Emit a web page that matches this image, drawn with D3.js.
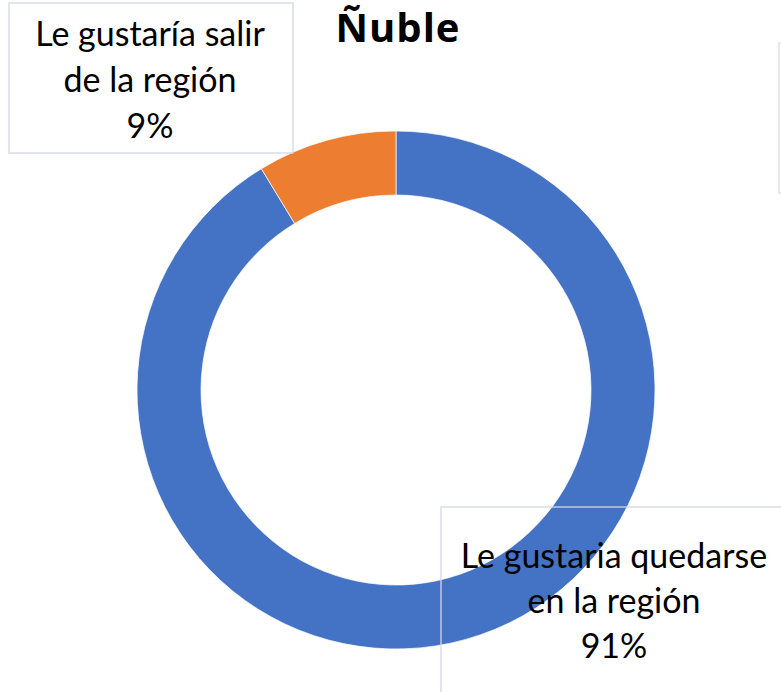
<!DOCTYPE html>
<html><head><meta charset="utf-8">
<script src="https://cdn.jsdelivr.net/npm/d3@7"></script>
<style>body{margin:0;background:#fff;} svg{display:block;}</style>
</head><body>
<script>
const categories = ["Le gustaria quedarse en la región", "Le gustaría salir de la región"];
const values = [91.3, 8.7];
const labelLines = [["Le gustaria quedarse", "en la región", "91%"], ["Le gustaría salir", "de la región", "9%"]];
const colors = ["#4472C4", "#ED7D31"];
const title = "Ñuble";

const W = 781, H = 692;
const svg = d3.select("body").append("svg").attr("width", W).attr("height", H);
const font = "Lato, 'Open Sans', sans-serif";

const cx = 396, cy = 390, R = 259, r = 195;
const pie = d3.pie().sort(null).value(d => d)(values);
const arc = d3.arc().innerRadius(r).outerRadius(R);
const color = d3.scaleOrdinal().domain(categories).range(colors);

svg.append("g").attr("transform", `translate(${cx},${cy})`)
  .selectAll("path").data(pie).join("path")
  .attr("d", arc).attr("fill", (d, i) => color(categories[i]))
  .attr("stroke", "#fff").attr("stroke-width", 0.7);

svg.append("text").attr("x", 398).attr("y", 42).attr("text-anchor", "middle")
  .attr("font-family", "'Open Sans', Lato, sans-serif").attr("font-weight", "bold").attr("font-size", 40)
  .attr("letter-spacing", 1)
  .attr("fill", "#000").text(title);

// partial box at right edge
svg.append("rect").attr("x", 779).attr("y", 43).attr("width", 40).attr("height", 150)
  .attr("fill", "#fff").attr("stroke", "#d9d9d9").attr("stroke-width", 1.2);

const boxes = [
  {x: 441, y: 507, w: 400, h: 250, tx: 614, base: [568, 613, 658]},
  {x: 9, y: 3, w: 284, h: 150, tx: 150, base: [46, 92, 138]}
];
boxes.forEach((b, i) => {
  svg.append("rect").attr("x", b.x).attr("y", b.y).attr("width", b.w).attr("height", b.h)
    .attr("fill", "none").attr("stroke", "#d3d8e3").attr("stroke-width", 1.3);
  const t = svg.append("text").attr("text-anchor", "middle").attr("font-family", font)
    .attr("font-size", 34).attr("fill", "#000");
  labelLines[i].forEach((ln, j) => {
    t.append("tspan").attr("x", b.tx).attr("y", b.base[j]).text(ln);
  });
});
</script>
</body></html>
